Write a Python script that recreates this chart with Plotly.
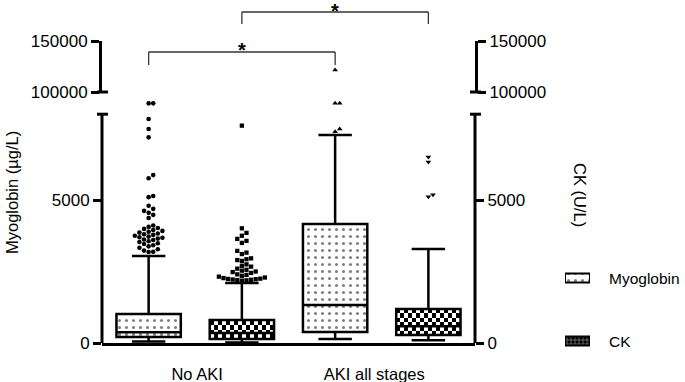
import plotly.graph_objects as go

# ---------------- data ----------------
groups = ["No AKI", "AKI all stages"]
series = ["Myoglobin", "CK"]

# box statistics, order = groups
myo_lower = [50, 140]
myo_q1 = [210, 385]
myo_median = [380, 1330]
myo_q3 = [1010, 4160]
myo_upper = [3040, 7270]

ck_lower = [20, 100]
ck_q1 = [140, 280]
ck_median = [350, 590]
ck_q3 = [800, 1190]
ck_upper = [2100, 3290]

# outliers
myo_out_noaki = [3180, 3190, 3230, 3280, 3330, 3380, 3420, 3460, 3490, 3530, 3560,
                 3600, 3620, 3650, 3680, 3700, 3720, 3750, 3780, 3800, 3830, 3860,
                 3890, 3920, 3950, 3990, 4020, 4060, 4110, 4370, 4480, 4550, 4620,
                 4690, 4800, 5100, 5140, 5760, 5870, 7190, 7480, 7830, 8380, 8380]
ck_out_noaki = [2180, 2190, 2200, 2210, 2220, 2230, 2240, 2250, 2270, 2290, 2320,
                2350, 2380, 2400, 2450, 2480, 2500, 2530, 2560, 2600, 2670, 2700,
                2750, 2870, 2900, 2930, 2960, 3110, 3160, 3220, 3500, 3570, 3640,
                3750, 3850, 4010, 7600]
myo_out_aki = [7390, 7480, 8380, 8380, 121600]
ck_out_aki = [5110, 5180, 6330, 6500]

y_tick_low = [0, 5000]
y_tick_high = [100000, 150000]
low_top = 8000

# ---------------- geometry helpers ----------------
W, H = 685, 382
FONT = "Liberation Sans, Arial, sans-serif"
X_L, X_R = 102, 475          # axis pixel positions
Y0_PX, Y5000_PX = 343, 200    # lower segment scale
LOW_TOP_PX = 93               # top of lower domain (incl. gap)
UP_BOT_PX, UP_TOP_PX = 92, 41 # upper segment

ppu_y = (Y0_PX - Y5000_PX) / 5000.0
low_range_top = (Y0_PX - LOW_TOP_PX) / ppu_y
xr = [0.5, 4.5]
ppu_x = (X_R - X_L) / (xr[1] - xr[0])

def pxx(p):
    return p / W

def pxy(p):
    return (H - p) / H

box_w = 0.69

def pos(g, s):
    return 1 + 2 * g + s

def beeswarm(vals, center, d=4.6):
    placed = []
    xs = []
    for v in vals:
        py = v * ppu_y
        k = 0
        while True:
            m = (k + 1) // 2
            off = m * d * (1 if k % 2 == 1 else -1) if k else 0.0
            ok = all(((off - ox) ** 2 + (py - oy) ** 2) ** 0.5 >= d * 0.95 for ox, oy in placed)
            if ok:
                break
            k += 1
        placed.append((off, py))
        xs.append(center + off / ppu_x)
    return xs

dot_pattern = dict(shape=".", fgcolor="black", bgcolor="white", size=7, solidity=0.15)

fig = go.Figure()

# ---------------- box fills ----------------
for g in range(2):
    # Myoglobin: dotted fill
    p = pos(g, 0)
    fig.add_trace(go.Bar(x=[p], y=[myo_q3[g] - myo_q1[g]], base=[myo_q1[g]], width=box_w,
                         marker=dict(color="white", line=dict(width=0), pattern=dot_pattern),
                         showlegend=False, hoverinfo="skip", yaxis="y"))
    # CK: checkerboard
    p = pos(g, 1)
    ncol = 16
    dx = box_w / ncol
    cell = 4.2 / ppu_y
    nrow = max(1, round((ck_q3[g] - ck_q1[g]) / cell))
    dy = (ck_q3[g] - ck_q1[g]) / nrow
    z = [[(i + j) % 2 for j in range(ncol)] for i in range(nrow)]
    fig.add_trace(go.Heatmap(z=z, x0=p - box_w / 2 + dx / 2, dx=dx,
                             y0=ck_q1[g] + dy / 2, dy=dy, zmin=0, zmax=1,
                             colorscale=[[0, "white"], [1, "black"]], showscale=False,
                             hoverinfo="skip", xaxis="x", yaxis="y3"))

# ---------------- boxes ----------------
for g in range(2):
    fig.add_trace(go.Box(x=[pos(g, 0)], q1=[myo_q1[g]], median=[myo_median[g]], q3=[myo_q3[g]],
                         lowerfence=[myo_lower[g]], upperfence=[myo_upper[g]], width=box_w,
                         whiskerwidth=0.52, boxpoints=False, fillcolor="rgba(0,0,0,0)",
                         line=dict(color="black", width=2.5), showlegend=False,
                         hoverinfo="skip", yaxis="y"))
    fig.add_trace(go.Box(x=[pos(g, 1)], q1=[ck_q1[g]], median=[ck_median[g]], q3=[ck_q3[g]],
                         lowerfence=[ck_lower[g]], upperfence=[ck_upper[g]], width=box_w,
                         whiskerwidth=0.52, boxpoints=False, fillcolor="rgba(0,0,0,0)",
                         line=dict(color="black", width=2.5), showlegend=False,
                         hoverinfo="skip", yaxis="y3"))

# ---------------- outliers ----------------
def add_out(vals, center, symbol, yaxis_low, yaxis_high, size):
    low = sorted(v for v in vals if v < y_tick_high[0])
    high = sorted(v for v in vals if v >= y_tick_high[0])
    if low:
        fig.add_trace(go.Scatter(x=beeswarm(low, center), y=low, mode="markers",
                                 marker=dict(symbol=symbol, size=size, color="black"),
                                 showlegend=False, hoverinfo="skip", yaxis=yaxis_low))
    if high:
        fig.add_trace(go.Scatter(x=[center] * len(high), y=high, mode="markers",
                                 marker=dict(symbol=symbol, size=size, color="black"),
                                 showlegend=False, hoverinfo="skip", yaxis=yaxis_high))

add_out(myo_out_noaki, pos(0, 0), "circle", "y", "y2", 4.6)
add_out(ck_out_noaki, pos(0, 1), "square", "y3", "y4", 4.3)
add_out(myo_out_aki, pos(1, 0), "triangle-up", "y", "y2", 5)
add_out(ck_out_aki, pos(1, 1), "triangle-down", "y3", "y4", 5)

# dummy to show the upper right axis
fig.add_trace(go.Scatter(x=[None], y=[None], yaxis="y4", showlegend=False, hoverinfo="skip"))

# ---------------- legend key (own small axes) ----------------
LEG_L, LEG_R = 565, 590
LEG_ROWS_PX = [278, 341]      # centre of each key row
SW_H = 9
leg_bot, leg_top = LEG_ROWS_PX[1] + 8, LEG_ROWS_PX[0] - 8
for i, name in enumerate(series):
    base_px = LEG_ROWS_PX[i] + SW_H / 2
    mk = (dict(color="white", line=dict(color="black", width=2), pattern=dot_pattern)
          if i == 0 else
          dict(color="black", line=dict(color="black", width=2),
               pattern=dict(shape="+", fgcolor="white", bgcolor="black", size=4, solidity=0.35)))
    fig.add_trace(go.Bar(x=[0.5], y=[SW_H], base=[leg_bot - base_px], width=1,
                         marker=mk, xaxis="x2", yaxis="y5", cliponaxis=False,
                         showlegend=False, hoverinfo="skip"))

# ---------------- layout ----------------
tickfont = dict(family=FONT, size=17, color="black")
ydom_low = [pxy(Y0_PX), pxy(LOW_TOP_PX)]
ydom_up = [pxy(UP_BOT_PX), pxy(UP_TOP_PX)]

common_low = dict(range=[0, low_range_top], tickvals=y_tick_low,
                  ticktext=[str(v) for v in y_tick_low], ticks="outside", ticklen=8,
                  tickwidth=3, tickcolor="black", showline=False, showgrid=False,
                  zeroline=False, tickfont=tickfont, domain=ydom_low, automargin=False)
common_up = dict(range=[y_tick_high[0], y_tick_high[1]], tickvals=y_tick_high,
                 ticktext=[str(v) for v in y_tick_high], ticks="outside", ticklen=8,
                 tickwidth=3, tickcolor="black", showline=True, linewidth=3,
                 linecolor="black", showgrid=False, zeroline=False, tickfont=tickfont,
                 domain=ydom_up, automargin=False)

fig.update_layout(
    width=W, height=H, margin=dict(l=0, r=0, t=0, b=0, autoexpand=False),
    paper_bgcolor="white", plot_bgcolor="rgba(0,0,0,0)",
    barmode="overlay", boxmode="overlay", showlegend=False,
    font=dict(family=FONT, color="black"),
    xaxis=dict(domain=[pxx(X_L), pxx(X_R)], range=xr, tickvals=[1.52, 3.42],
               ticktext=groups, ticks="outside", ticklen=14, tickcolor="rgba(0,0,0,0)",
               showline=True, linewidth=3, linecolor="black", showgrid=False,
               zeroline=False, automargin=False,
               tickfont=dict(family=FONT, size=16.5, color="black")),
    yaxis=dict(anchor="x", side="left", **common_low),
    yaxis2=dict(anchor="x", side="left", **common_up),
    yaxis3=dict(anchor="x", side="right", overlaying="y", **common_low),
    yaxis4=dict(anchor="x", side="right", overlaying="y2", **common_up),
    xaxis2=dict(domain=[pxx(LEG_L), pxx(LEG_R)], range=[0, 1], visible=False,
                anchor="y5", automargin=False),
    yaxis5=dict(domain=[pxy(leg_bot), pxy(leg_top)], range=[0, leg_bot - leg_top],
                visible=False, anchor="x2", automargin=False),
)

# lower axis lines with end caps (broken axis)
shapes = []
for xp, cap in ((X_L, (X_L - 5, X_L + 6)), (X_R, (X_R - 5, X_R + 6))):
    shapes.append(dict(type="line", xref="paper", yref="y", x0=pxx(xp), x1=pxx(xp),
                       y0=0, y1=low_top, line=dict(color="black", width=3)))
    shapes.append(dict(type="line", xref="paper", yref="y", x0=pxx(cap[0]), x1=pxx(cap[1]),
                       y0=low_top, y1=low_top, line=dict(color="black", width=3)))
    shapes.append(dict(type="line", xref="paper", yref="paper", x0=pxx(cap[0]), x1=pxx(cap[1]),
                       y0=pxy(UP_BOT_PX), y1=pxy(UP_BOT_PX), line=dict(color="black", width=3)))

# significance brackets
def bracket(xa, xb, top_px, leg_px):
    return [dict(type="line", xref="x", yref="paper", x0=xa, x1=xa, y0=pxy(leg_px), y1=pxy(top_px),
                 line=dict(color="#333", width=1.3)),
            dict(type="line", xref="x", yref="paper", x0=xa, x1=xb, y0=pxy(top_px), y1=pxy(top_px),
                 line=dict(color="#333", width=1.3)),
            dict(type="line", xref="x", yref="paper", x0=xb, x1=xb, y0=pxy(leg_px), y1=pxy(top_px),
                 line=dict(color="#333", width=1.3))]

shapes += bracket(pos(0, 0), pos(1, 0), 52, 65)
shapes += bracket(pos(0, 1), pos(1, 1), 12, 24)
fig.update_layout(shapes=shapes)

ann = [
    dict(x=(pos(0, 0) + pos(1, 0)) / 2, y=pxy(50), xref="x", yref="paper", text="<b>*</b>",
         xanchor="center", yanchor="middle", showarrow=False,
         font=dict(family=FONT, size=20, color="black")),
    dict(x=(pos(0, 1) + pos(1, 1)) / 2, y=pxy(11), xref="x", yref="paper", text="<b>*</b>",
         xanchor="center", yanchor="middle", showarrow=False,
         font=dict(family=FONT, size=20, color="black")),
    dict(x=pxx(12), y=pxy(193), xref="paper", yref="paper", text="Myoglobin (µg/L)",
         xanchor="center", yanchor="middle", textangle=-90, showarrow=False,
         font=dict(family=FONT, size=16.5, color="black")),
    dict(x=pxx(580), y=pxy(195), xref="paper", yref="paper", text="CK (U/L)",
         xanchor="center", yanchor="middle", textangle=90, showarrow=False,
         font=dict(family=FONT, size=16.5, color="black")),
]
for i, name in enumerate(series):
    ann.append(dict(x=pxx(607), y=pxy(LEG_ROWS_PX[i]), xref="paper", yref="paper", text=name,
                    xanchor="left", yanchor="middle", showarrow=False,
                    font=dict(family=FONT, size=15.5, color="black")))
fig.update_layout(annotations=ann)

fig.write_html("out.html", config={"displayModeBar": False},
               post_script="document.body.style.margin='0';")
